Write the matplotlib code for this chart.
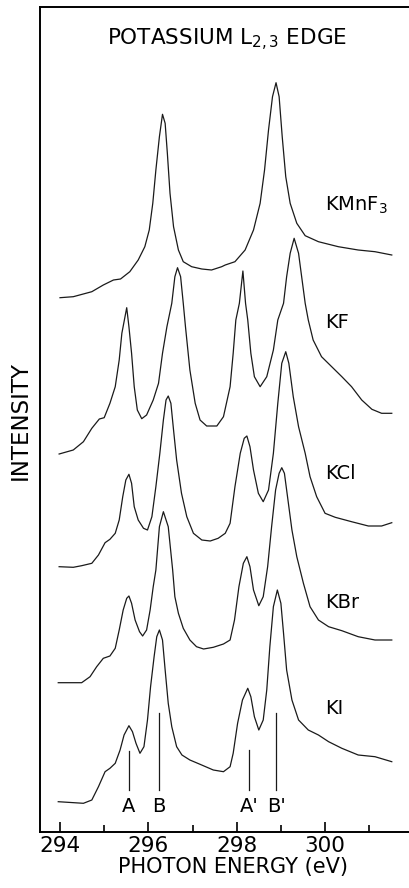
import numpy as np
import matplotlib
matplotlib.use("Agg")
import matplotlib.pyplot as plt

# photon energy (eV) and intensity (arb. units, stacked offsets included)

kmnf3_E = [294.0, 294.30, 294.72, 294.98, 295.21, 295.37, 295.58, 295.77, 295.92, 296.02,
           296.10, 296.17, 296.25, 296.32, 296.38, 296.43, 296.49, 296.57, 296.68, 296.79,
           296.98, 297.21, 297.43, 297.66, 297.74, 297.96, 298.19, 298.38, 298.53, 298.63,
           298.72, 298.81, 298.89, 298.96, 299.03, 299.11, 299.21, 299.36, 299.55, 299.85,
           300.30, 300.75, 301.13, 301.51]
kmnf3_I = [534.3, 535.3, 540.3, 547, 552, 553, 560.3, 572, 585.3, 602,
           628.7, 662, 695.3, 717.7, 708.7, 678.7, 638.7, 605.3, 582, 570.3,
           565.3, 563, 562, 565.3, 567, 570.3, 582, 602, 628.7, 662,
           702, 735.3, 749.3, 735.3, 695.3, 655.3, 628.7, 608.7, 596.3, 590.3,
           585.3, 582, 580.3, 577]

kf_E = [293.98, 294.30, 294.53, 294.72, 294.89, 295.0, 295.13, 295.25, 295.34, 295.40,
        295.51, 295.56, 295.62, 295.68, 295.75, 295.85, 295.96, 296.11, 296.23, 296.32,
        296.42, 296.53, 296.60, 296.66, 296.73, 296.79, 296.84, 296.94, 297.06, 297.17,
        297.32, 297.55, 297.70, 297.85, 297.92, 297.98, 298.06, 298.14, 298.20, 298.25,
        298.32, 298.40, 298.53, 298.68, 298.83, 298.93, 299.06, 299.13, 299.21, 299.30,
        299.40, 299.47, 299.55, 299.62, 299.73, 299.92, 300.15, 300.38, 300.60, 300.83,
        301.06, 301.28, 301.51]
kf_I = [378, 382, 390.3, 403.7, 413, 414.3, 428.7, 445.3, 472, 498.7,
        524.3, 505.3, 478.7, 445.3, 422, 413.3, 417, 432, 448.7, 478.7,
        505.3, 528.7, 555.3, 564.3, 555.3, 528.7, 505.3, 462, 428.7, 412,
        406, 406, 415.3, 445.3, 478.7, 512, 528.7, 561, 528.7, 512,
        478.7, 455.3, 445.3, 455.3, 482, 512, 528.7, 555.3, 578.7, 593.7,
        578.7, 555.3, 528.7, 512, 492, 475.3, 465.3, 455.3, 445.3, 432,
        422.7, 418.7, 418.7]

kcl_E = [293.98, 294.30, 294.49, 294.72, 294.87, 295.02, 295.13, 295.25, 295.34, 295.42,
         295.49, 295.56, 295.62, 295.68, 295.77, 295.89, 295.98, 296.08, 296.17, 296.26,
         296.34, 296.40, 296.45, 296.51, 296.57, 296.64, 296.75, 296.87, 297.02, 297.21,
         297.40, 297.58, 297.74, 297.85, 297.96, 298.08, 298.17, 298.23, 298.30, 298.38,
         298.49, 298.60, 298.72, 298.83, 298.93, 299.02, 299.11, 299.18, 299.28, 299.40,
         299.55, 299.66, 299.81, 300.0, 300.23, 300.60, 300.98, 301.28, 301.51]
kcl_I = [265.3, 264.7, 266.3, 268.7, 277, 289.3, 292.7, 298.7, 312, 335.3,
         352, 357.7, 348.7, 325.3, 312, 303.7, 302, 315.3, 345.3, 378.7,
         412, 432, 436, 428.7, 402, 372, 338.7, 315.3, 298.7, 292,
         291, 293.7, 298.7, 308.7, 345.3, 378.7, 393.7, 396, 385.3, 362,
         338.7, 330.3, 342, 378.7, 428.7, 468.7, 480.3, 468.7, 435.3, 405.3,
         378.7, 355.3, 335.3, 318.7, 314.7, 310.3, 306, 306, 309.3]

kbr_E = [293.96, 294.49, 294.68, 294.83, 294.98, 295.13, 295.25, 295.34, 295.43, 295.51,
         295.56, 295.62, 295.70, 295.80, 295.87, 295.96, 296.04, 296.11, 296.17, 296.25,
         296.34, 296.45, 296.55, 296.60, 296.68, 296.79, 296.94, 297.09, 297.25, 297.47,
         297.70, 297.85, 297.95, 298.05, 298.15, 298.23, 298.30, 298.38, 298.50, 298.60,
         298.70, 298.79, 298.88, 298.96, 299.02, 299.08, 299.16, 299.25, 299.36, 299.51,
         299.66, 299.85, 300.08, 300.38, 300.75, 301.13, 301.51]
kbr_I = [149.3, 149.3, 155.3, 165.3, 173.7, 176, 183.7, 202, 222, 233.7,
         236, 228.7, 212, 200.3, 196, 202, 222, 245.3, 262, 305.3,
         320.3, 305.3, 262, 235.3, 218.7, 203.7, 192, 185.3, 183, 184.7,
         188, 192, 212, 245.3, 268.7, 275.3, 265.3, 242, 226.3, 235.3,
         265.3, 305.3, 342, 358.7, 364.3, 358.7, 332, 302, 275.3, 248.7,
         225.3, 212, 205.3, 201.3, 195.3, 192, 192]

ki_E = [293.96, 294.53, 294.72, 294.87, 295.02, 295.13, 295.25, 295.36, 295.45, 295.56,
        295.64, 295.72, 295.81, 295.90, 295.98, 296.05, 296.13, 296.19, 296.25, 296.32,
        296.38, 296.45, 296.53, 296.64, 296.76, 296.94, 297.17, 297.47, 297.70, 297.85,
        297.92, 298.02, 298.13, 298.25, 298.32, 298.40, 298.50, 298.60, 298.68, 298.75,
        298.83, 298.92, 299.00, 299.06, 299.13, 299.25, 299.40, 299.62, 299.85, 300.08,
        300.38, 300.75, 301.13, 301.51]
ki_I = [30.3, 28.7, 32, 45.3, 60.3, 63.7, 68.7, 82, 97, 106.3,
        100.3, 88.7, 78.7, 85.3, 112, 145.3, 175.3, 195.3, 202, 192,
        162, 128.7, 105.3, 85.3, 77, 72, 67.7, 62, 60.3, 65.3,
        78.7, 108.7, 132, 143.7, 135.3, 115.3, 102, 112, 142, 185.3,
        225.3, 242, 228.7, 198.7, 162, 132, 112, 102, 97, 90.3,
        83.7, 77, 75.3, 70.3]

names = ["KMnF$_3$", "KF", "KCl", "KBr", "KI"]
name_y = [627, 509, 359, 229, 124]  # where each label sits, same units as intensity

# peak markers under the KI curve
peak_names = ["A", "B", "A'", "B'"]
peak_E = [295.56, 296.23, 298.28, 298.89]
peak_top = [81, 119, 82, 119]

series = [(kmnf3_E, kmnf3_I), (kf_E, kf_I), (kcl_E, kcl_I), (kbr_E, kbr_I), (ki_E, ki_I)]

fig = plt.figure(figsize=(4.09, 8.88), dpi=100)
ax = fig.add_axes([40/409, 56/888, 369/409, 825/888])

for (E, I) in series:
    ax.plot(E, I, color="#1a1a1a", lw=0.9)

for nm, yy in zip(names, name_y):
    ax.text(300.0, yy, nm, fontsize=14, ha="left", va="center")

for nm, e, top in zip(peak_names, peak_E, peak_top):
    ax.plot([e, e], [42, top], color="#1a1a1a", lw=0.9)
    ax.text(e, 26, nm, fontsize=14, ha="center", va="center")

ax.text(297.77, 792, "POTASSIUM L$_{2,3}$ EDGE", fontsize=15.5, ha="center", va="center")

ax.set_xlim(293.547, 301.90)
ax.set_ylim(0, 825)
ax.set_xticks([294, 296, 298, 300])
ax.set_xticks([295, 297, 299, 301], minor=True)
ax.set_yticks([])
ax.tick_params(axis="x", which="major", direction="in", length=7, width=1.2,
               labelsize=15.5, pad=3)
ax.tick_params(axis="x", which="minor", direction="in", length=5, width=1.2)
for s in ["left", "bottom", "top"]:
    ax.spines[s].set_linewidth(1.4)
ax.spines["right"].set_visible(False)

fig.text(20/409, 1 - 420/888, "INTENSITY", rotation=90, fontsize=16.5,
         ha="center", va="center")
fig.text(233/409, 1 - 867/888, "PHOTON ENERGY (eV)", fontsize=15,
         ha="center", va="center")

fig.savefig("out.png", dpi=100)
